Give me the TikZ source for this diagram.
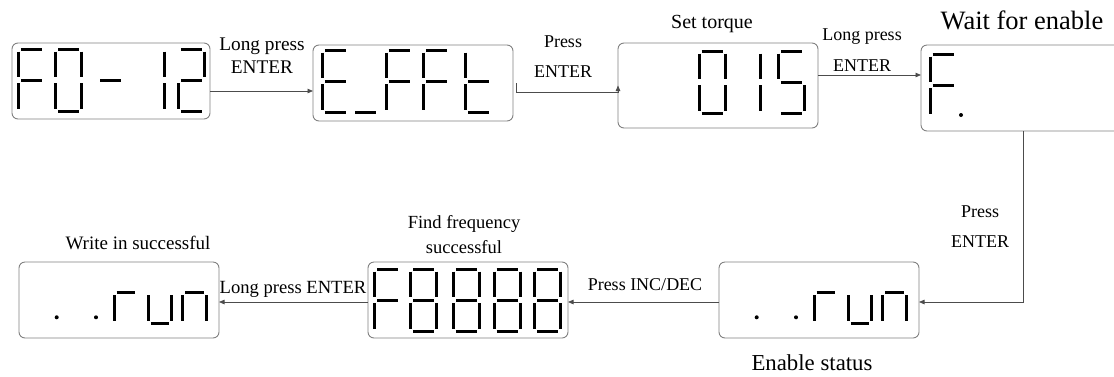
\documentclass[tikz,border=0pt]{standalone}
\usepackage{fontspec}
\setmainfont{Liberation Serif}
\usetikzlibrary{arrows.meta,calc}
\newcommand\segW{26}
\newcommand\segH{31}
\newcommand\SegA[2]{\draw[seg] (#1+2.5,#2) -- (#1+\segW-2.5,#2);}
\newcommand\SegB[2]{\draw[seg] (#1+\segW,#2+2.5) -- (#1+\segW,#2+\segH-3);}
\newcommand\SegC[2]{\draw[seg] (#1+\segW,#2+\segH+3) -- (#1+\segW,#2+2*\segH-2.5);}
\newcommand\SegD[2]{\draw[seg] (#1+2.5,#2+2*\segH) -- (#1+\segW-2.5,#2+2*\segH);}
\newcommand\SegE[2]{\draw[seg] (#1,#2+\segH+3) -- (#1,#2+2*\segH-2.5);}
\newcommand\SegF[2]{\draw[seg] (#1,#2+2.5) -- (#1,#2+\segH-3);}
\newcommand\SegG[2]{\draw[seg] (#1+2.5,#2+\segH) -- (#1+\segW-2.5,#2+\segH);}
\newcommand\digit[3]{\foreach \s in {#3}{\csname Seg\s\endcsname{#1}{#2}}}
\begin{document}
\begin{tikzpicture}[x=1pt,y=-1pt,
  dbox/.style={draw=black!50, line width=0.9pt, rounded corners=6pt, inner sep=0pt, outer sep=0pt, anchor=north west},
  seg/.style={line width=3pt, black},
  conn/.style={draw=black!70, line width=0.8pt, -{Triangle[length=5.5pt,width=4.5pt]}},
  lbl/.style={font=\fontsize{18}{23}\selectfont, align=center, inner sep=0pt},
]
\useasboundingbox (0,0) rectangle (1114,376);
% boxes
\node[dbox, minimum width=198pt, minimum height=76pt] (b1) at (12,43) {};
\node[dbox, minimum width=200pt, minimum height=76pt] (b2) at (313,45) {};
\node[dbox, minimum width=200pt, minimum height=85pt] (b3) at (618,43) {};
\node[dbox, minimum width=204pt, minimum height=86pt] (b4) at (921,45) {};
\node[dbox, minimum width=200pt, minimum height=76pt] (b5) at (719,262) {};
\node[dbox, minimum width=200pt, minimum height=76pt] (b6) at (368,262) {};
\node[dbox, minimum width=200pt, minimum height=76pt] (b7) at (19,262) {};
% box1: F0- 12
\digit{18.3}{49}{A,E,F,G}
\digit{55.7}{49}{A,B,C,D,E,F}
\digit{97.5}{49}{G}
\digit{138}{49}{B,C}
\digit{178.3}{49}{A,B,G,E,D}
% box2: E_FFt
\digit{322.3}{50}{A,D,E,F,G}
\digit{352.5}{50}{D}
\digit{386}{50}{A,E,F,G}
\digit{423.3}{50}{A,E,F,G}
\digit{465.7}{50}{D,E,F,G}
% box3: 015
\digit{699}{51}{A,B,C,D,E,F}
\digit{734.7}{51}{B,C}
\digit{778.3}{51}{A,F,G,C,D}
% box4: F.
\digit{930}{54}{A,F,G,E}
\fill (961,115) circle (2pt);
% box6: F8888
\digit{374.7}{269}{A,E,F,G}
\digit{410.7}{269}{A,B,C,D,E,F,G}
\digit{453.3}{269}{A,B,C,D,E,F,G}
\digit{494}{269}{A,B,C,D,E,F,G}
\digit{534.7}{269}{A,B,C,D,E,F,G}
% box5 and box7: . .run
\renewcommand\segW{23.5}
\foreach \dx in {0,-700}{
  \fill (756.7+\dx,317.3) circle (2pt);
  \fill (796+\dx,317.3) circle (2pt);
  \digit{814+\dx}{261.3}{E,G}
  \digit{848.3+\dx}{261.3}{C,D,E}
  \digit{882.7+\dx}{261.3}{C,E,G}
}
% connectors
\coordinate (k1) at ([yshift=-10pt]b1.east);
\draw[conn] (k1) -- (k1 -| b2.west);
\coordinate (k2s) at ([xshift=3pt]b2.east);
\coordinate (k2) at (0,92);
\draw[conn] (k2s) |- (k2 -| b3.west) -- (b3.west);
\coordinate (k3) at ([yshift=10.5pt]b3.east);
\draw[conn] (k3) -- (k3 -| b4.west);
\coordinate (k4) at ([yshift=-2pt]b5.east);
\draw[conn] (b4.south) |- (k4);
\coordinate (k5) at ([yshift=-2pt]b5.west);
\draw[conn] (k5) -- (k5 -| b6.east);
\coordinate (k6) at ([yshift=-2pt]b6.west);
\draw[conn] (k6) -- (k6 -| b7.east);
% labels
\node[lbl, font=\fontsize{19.3}{23}\selectfont] (l1) at (262,56) {Long press\\ENTER};
\node[lbl, font=\fontsize{18}{30}\selectfont] (l2) at (563,57) {Press\\ENTER};
\node[lbl, font=\fontsize{20}{24}\selectfont] (l3) at (712,24) {Set torque};
\node[lbl, font=\fontsize{18}{31}\selectfont] (l4) at (862,50) {Long press\\ENTER};
\node[lbl, font=\fontsize{26.5}{30}\selectfont] (l5) at (1022,20) {Wait for enable};
\node[lbl, font=\fontsize{18}{30}\selectfont] (l6) at (980,227) {Press\\ENTER};
\node[lbl, font=\fontsize{22.8}{27}\selectfont] (l7) at (812,363) {Enable status};
\node[lbl] (l8) at (645,285) {Press INC/DEC};
\node[lbl, font=\fontsize{18.5}{25}\selectfont] (l9) at (464,235) {Find frequency\\successful};
\node[lbl, font=\fontsize{18.6}{23}\selectfont] (l10) at (293,289) {Long press ENTER};
\node[lbl, font=\fontsize{19}{24}\selectfont] (l11) at (138,243) {Write in successful};
\end{tikzpicture}
\end{document}
